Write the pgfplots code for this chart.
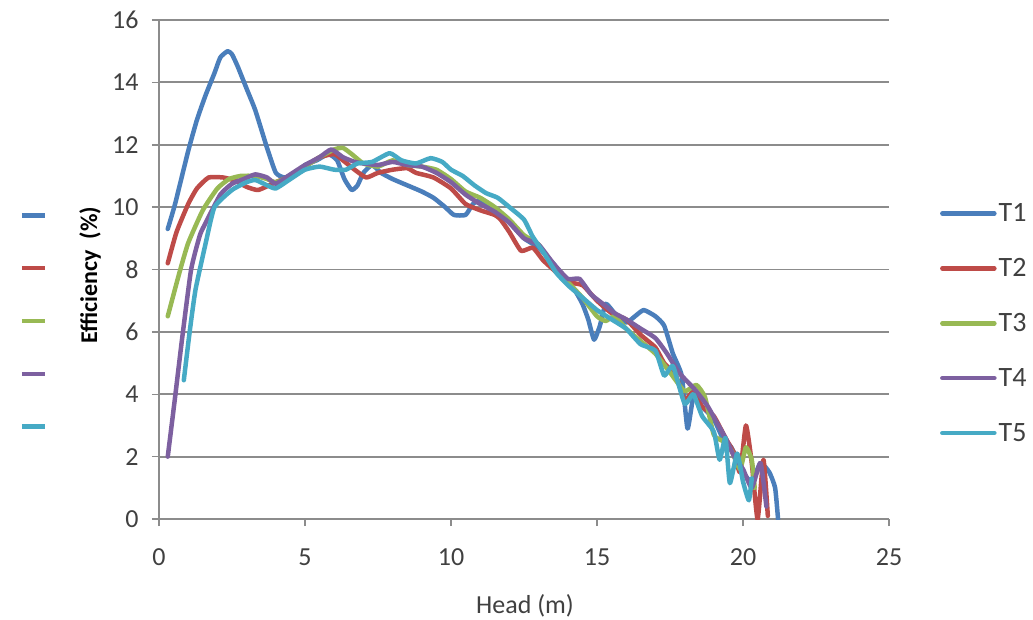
\documentclass[border=0pt]{standalone}
\usepackage{pgfplots}
\pgfplotsset{compat=1.18}
\usepackage{fontspec}
\setmainfont{Carlito}
\definecolor{cT1}{HTML}{4A7EBB}
\definecolor{cT2}{HTML}{BE4B48}
\definecolor{cT3}{HTML}{98B954}
\definecolor{cT4}{HTML}{7D60A0}
\definecolor{cT5}{HTML}{46AAC5}
\definecolor{gridc}{HTML}{8C8C8C}
\definecolor{txt}{HTML}{404040}
\begin{document}
\begin{tikzpicture}
\path[use as bounding box] (-159pt,-100pt) rectangle (874pt,519pt);
\begin{axis}[
  scale only axis, width=730pt, height=499pt,
  at={(0pt,0pt)}, anchor=south west,
  xmin=0, xmax=25, ymin=0, ymax=16,
  xtick={0,5,...,25}, ytick={0,2,...,16},
  axis x line*=bottom, axis y line*=left,
  axis line style={gridc, line width=1.8pt},
  ymajorgrids, grid style={gridc, line width=1.8pt},
  tick align=outside, major tick length=7pt,
  tick style={gridc, line width=1.5pt},
  /pgf/number format/assume math mode=true,
  ticklabel style={font=\fontsize{26}{30}\selectfont, text=txt},
  xticklabel style={yshift=-19pt},
  yticklabel style={xshift=-10pt},
  xlabel={Head (m)}, ylabel={Efficiency\ \ (\%)},
  xlabel style={font=\fontsize{26}{30}\selectfont, text=txt, at={(axis description cs:0.5014,-0.174)}, anchor=center},
  ylabel style={font=\bfseries\fontsize{24}{28}\selectfont, text=black, at={(axis description cs:-0.0945,0.489)}, rotate=0, anchor=center},
  legend style={draw=none, fill=none, font=\fontsize{28}{30}\selectfont, text=txt,
    at={(axis description cs:1.07,0.636)}, anchor=north west,
    row sep=31.3pt, inner sep=0pt, outer sep=0pt},
  legend cell align=left,
  legend image code/.code={\draw[#1, line width=4.5pt] (0pt,0pt) -- (52pt,0pt);},
  every axis plot/.append style={line width=4.5pt, line join=round, line cap=round, smooth, tension=0.3},
]
\addplot[cT1] coordinates {
(0.3,9.3) (0.55,10.1) (1.0,11.8) (1.3,12.8) (1.6,13.6) (1.9,14.3) (2.1,14.8) (2.35,15.0) (2.5,14.9) (2.7,14.5) (3.0,13.8) (3.3,13.1) (3.7,11.9) (4.0,11.1) (4.3,10.95) (4.7,11.1) (5.0,11.35) (5.4,11.5) (5.8,11.7) (6.1,11.5) (6.35,10.9) (6.6,10.55) (6.8,10.7) (7.0,11.1) (7.3,11.35) (7.6,11.1) (8.0,10.9) (8.5,10.7) (9.0,10.5) (9.4,10.3) (9.8,10.0) (10.1,9.75) (10.5,9.75) (10.75,10.1) (11.0,10.2) (11.5,9.9) (12.0,9.5) (12.5,9.0) (13.0,8.7) (13.5,8.2) (13.9,7.7) (14.2,7.4) (14.5,6.9) (14.7,6.4) (14.9,5.75) (15.1,6.2) (15.3,6.9) (15.6,6.6) (16.0,6.3) (16.3,6.5) (16.6,6.7) (17.0,6.5) (17.3,6.2) (17.6,5.3) (17.9,4.6) (18.1,2.9) (18.3,3.9) (18.6,3.6) (19.0,3.2) (19.3,2.6) (19.6,2.3) (20.0,1.5) (20.3,1.2) (20.6,1.8) (20.9,1.5) (21.1,1.0) (21.2,0.0)
};
\addlegendentry{T1}
\addplot[cT2] coordinates {
(0.3,8.2) (0.6,9.2) (1.0,10.1) (1.3,10.6) (1.7,10.95) (2.2,10.95) (2.6,10.85) (3.0,10.65) (3.4,10.55) (4.0,10.8) (4.5,11.0) (5.0,11.3) (5.5,11.6) (6.0,11.7) (6.3,11.5) (6.7,11.2) (7.1,10.95) (7.5,11.1) (8.0,11.2) (8.5,11.25) (8.8,11.1) (9.4,10.95) (10.0,10.6) (10.5,10.1) (11.0,9.9) (11.5,9.75) (11.7,9.6) (12.0,9.2) (12.4,8.6) (12.8,8.7) (13.15,8.3) (13.5,8.0) (14.0,7.6) (14.5,7.5) (15.0,7.0) (15.5,6.6) (16.0,6.4) (16.5,5.9) (17.0,5.5) (17.3,5.0) (17.7,4.6) (18.0,3.8) (18.3,4.1) (18.6,3.6) (19.0,3.3) (19.4,2.6) (19.7,2.1) (19.9,1.5) (20.1,3.0) (20.3,1.8) (20.5,0.0) (20.7,1.9) (20.85,0.1)
};
\addlegendentry{T2}
\addplot[cT3] coordinates {
(0.3,6.5) (0.7,7.9) (1.0,8.85) (1.5,9.9) (2.0,10.6) (2.4,10.9) (2.8,11.0) (3.3,11.0) (3.7,10.9) (4.0,10.8) (4.5,11.0) (5.0,11.3) (5.5,11.6) (6.0,11.85) (6.3,11.9) (6.6,11.7) (7.0,11.4) (7.5,11.3) (8.0,11.5) (8.5,11.35) (9.0,11.3) (9.5,11.2) (10.0,10.9) (10.5,10.5) (11.0,10.3) (11.5,10.0) (12.0,9.6) (12.5,9.1) (13.0,8.8) (13.5,8.1) (14.0,7.6) (14.5,7.1) (15.0,6.5) (15.3,6.35) (15.6,6.5) (16.0,6.1) (16.5,5.7) (17.0,5.3) (17.5,4.7) (18.0,4.1) (18.4,4.3) (18.7,3.9) (19.0,2.7) (19.3,2.5) (19.6,2.2) (19.9,1.6) (20.1,2.3) (20.3,1.9) (20.4,1.0)
};
\addlegendentry{T3}
\addplot[cT4] coordinates {
(0.3,2.0) (0.55,3.9) (0.8,5.85) (1.1,8.0) (1.4,9.1) (1.6,9.5) (2.1,10.4) (2.5,10.75) (2.9,10.9) (3.3,11.05) (3.7,10.95) (4.0,10.75) (4.5,11.05) (5.0,11.35) (5.5,11.6) (5.9,11.85) (6.3,11.6) (6.7,11.45) (7.0,11.4) (7.5,11.35) (8.0,11.45) (8.5,11.35) (9.0,11.3) (9.5,11.1) (10.0,10.8) (10.5,10.4) (11.0,10.1) (11.5,9.85) (12.0,9.5) (12.5,9.0) (13.0,8.8) (13.5,8.2) (14.0,7.7) (14.4,7.7) (14.8,7.2) (15.2,6.9) (15.6,6.6) (16.0,6.4) (16.5,6.1) (17.0,5.8) (17.4,5.3) (17.8,4.7) (18.1,4.4) (18.4,4.1) (18.8,3.6) (19.1,3.1) (19.4,2.6) (19.7,2.0) (20.0,1.6) (20.3,1.0) (20.6,1.8) (20.8,0.4)
};
\addlegendentry{T4}
\addplot[cT5] coordinates {
(0.85,4.45) (1.05,6.0) (1.25,7.35) (1.6,8.85) (1.9,10.0) (2.5,10.55) (3.0,10.8) (3.3,10.87) (3.7,10.7) (4.0,10.6) (4.5,10.9) (5.0,11.2) (5.5,11.3) (6.0,11.2) (6.4,11.2) (6.8,11.4) (7.3,11.45) (7.9,11.73) (8.3,11.5) (8.8,11.4) (9.3,11.57) (9.7,11.45) (10.0,11.2) (10.4,11.0) (10.8,10.7) (11.2,10.45) (11.6,10.3) (12.0,10.0) (12.5,9.6) (12.8,9.05) (13.2,8.5) (13.6,7.9) (14.0,7.5) (14.5,7.1) (15.0,6.7) (15.5,6.4) (16.0,6.1) (16.5,5.6) (17.0,5.4) (17.3,4.6) (17.6,4.9) (18.0,3.7) (18.3,4.0) (18.6,3.3) (19.0,2.8) (19.2,1.9) (19.4,2.6) (19.55,1.15) (19.8,2.1) (20.0,1.2) (20.2,0.6) (20.3,1.3)
};
\addlegendentry{T5}
\end{axis}
\begin{axis}[
  hide axis, scale only axis, width=730pt, height=499pt,
  at={(0pt,0pt)}, anchor=south west,
  xmin=0, xmax=1, ymin=0, ymax=1,
  legend style={draw=none, fill=none, at={(axis description cs:-0.191,0.614)}, anchor=north west,
    row sep=47.3pt, inner sep=0pt, outer sep=0pt, font=\fontsize{8}{8}\selectfont},
  legend image code/.code={\draw[#1, line width=4.5pt] (0pt,0pt) -- (23pt,0pt);},
]
\addlegendimage{cT1}\addlegendentry{}
\addlegendimage{cT2}\addlegendentry{}
\addlegendimage{cT3}\addlegendentry{}
\addlegendimage{cT4}\addlegendentry{}
\addlegendimage{cT5}\addlegendentry{}
\end{axis}
\end{tikzpicture}
\end{document}
